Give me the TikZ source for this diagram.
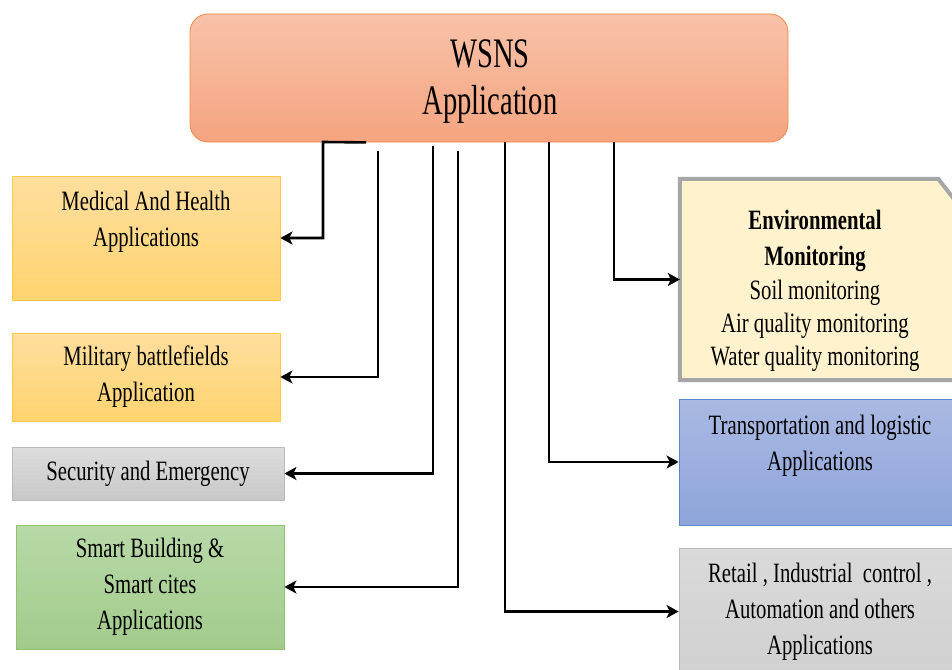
\documentclass[tikz,border=0pt]{standalone}
\usepackage{fontspec}
\setmainfont{Liberation Serif}[FakeStretch=0.74]
\newfontfamily\topfont{Liberation Serif}[FakeStretch=0.68]
\usetikzlibrary{arrows.meta,calc}
\definecolor{topT}{HTML}{F8C2A9}
\definecolor{topB}{HTML}{F5A47F}
\definecolor{topD}{HTML}{EE8A4C}
\definecolor{yelT}{HTML}{FFDF9F}
\definecolor{yelB}{HTML}{FFD36F}
\definecolor{yelD}{HTML}{FFC845}
\definecolor{gryT}{HTML}{DDDDDD}
\definecolor{gryB}{HTML}{C8C8C8}
\definecolor{gryD}{HTML}{BBBBBB}
\definecolor{grnT}{HTML}{B8D9A8}
\definecolor{grnB}{HTML}{A2CB8B}
\definecolor{grnD}{HTML}{8FC272}
\definecolor{bluT}{HTML}{AAB9E3}
\definecolor{bluB}{HTML}{8EA5DA}
\definecolor{bluD}{HTML}{5B85CC}
\definecolor{retT}{HTML}{DADADA}
\definecolor{retB}{HTML}{D0D0D0}
\definecolor{envF}{HTML}{FFF2CC}
\definecolor{envD}{HTML}{A6A6A6}
\begin{document}
\begin{tikzpicture}[x=1pt,y=-1pt,
  box/.style={draw, line width=0.8pt, inner sep=0pt, align=center,
    font=\fontsize{28}{36}\selectfont},
  txt/.style={inner sep=0pt, align=center, font=\fontsize{28}{36}\selectfont},
  yelbox/.style={box, top color=yelT, bottom color=yelB, draw=yelD},
  grybox/.style={box, top color=gryT, bottom color=gryB, draw=gryD},
  grnbox/.style={box, top color=grnT, bottom color=grnB, draw=grnD},
  blubox/.style={box, top color=bluT, bottom color=bluB, draw=bluD},
  retbox/.style={box, top color=retT, bottom color=retB, draw=gryD},
  conn/.style={draw=black, line width=2.6pt, -{Stealth[length=12pt,width=13pt,inset=3pt]}}]
\useasboundingbox (0,0) rectangle (952,669);
\clip (0,0) rectangle (952,669);
\fill[white] (0,0) rectangle (952,669);

% top box
\node[box, top color=topT, bottom color=topB, draw=topD, rounded corners=18pt,
  minimum width=598pt, minimum height=128pt, font=\topfont\fontsize{42}{47}\selectfont]
  (top) at (489,78) {};
\node[inner sep=0pt, align=center, font=\topfont\fontsize{42}{47}\selectfont]
  (topt) at (490,82) {WSNS\\Application};

% left boxes
\node[yelbox, minimum width=268pt, minimum height=124pt] (med) at (146,238) {};
\node[txt] (medt) at (146,222) {Medical And Health\\Applications};
\node[yelbox, minimum width=268pt, minimum height=88pt] (mil) at (146,377) {Military battlefields\\Application};
\node[grybox, minimum width=272pt, minimum height=53pt] (sec) at (148,473.5) {Security and Emergency};
\node[grnbox, minimum width=268pt, minimum height=124pt] (smart) at (150,587) {Smart Building \&\\Smart cites\\Applications};

% right boxes
\node[inner sep=0pt, minimum width=276pt, minimum height=201pt] (env) at (818,279.5) {};
\filldraw[fill=envF, draw=envD, line width=4pt, line join=miter]
  (env.north west) -- ($(env.north east)+(-18,0)$) -- ($(env.north east)+(0,23)$)
  -- (env.south east) -- (env.south west) -- cycle;
\node[txt] (envt) at (815,291) {\textbf{Environmental}\\\textbf{Monitoring}\\[-2pt]Soil monitoring\\[-3pt]Air quality monitoring\\[-3pt]Water quality monitoring};

\node[blubox, minimum width=281pt, minimum height=126pt] (trans) at (819.5,462) {};
\node[txt] (transt) at (820,446) {Transportation and logistic\\Applications};
\node[retbox, minimum width=281pt, minimum height=127pt] (ret) at (819.5,611.5) {};
\node[txt] (rett) at (820,612) {Retail , Industrial\ \ control ,\\Automation and others\\Applications};

% connectors
\coordinate (x1) at (366,0);
\coordinate (k1) at (323,142);
\coordinate (s2) at (378,151);
\coordinate (s3) at (433,146);
\coordinate (s4) at (458,151);
\coordinate (x5) at (505,0);
\coordinate (x6) at (549,0);
\coordinate (x7) at (614,0);

\draw[conn] (top.south -| x1) -- (k1) |- (med.east);
\draw[conn] (s2) |- (mil.east);
\draw[conn] (s3) |- (sec.east);
\draw[conn] (s4) |- (smart.east);
\draw[conn] (top.south -| x5) |- (ret.west);
\draw[conn] (top.south -| x6) |- (trans.west);
\draw[conn] (top.south -| x7) |- (env.west);
\end{tikzpicture}
\end{document}
